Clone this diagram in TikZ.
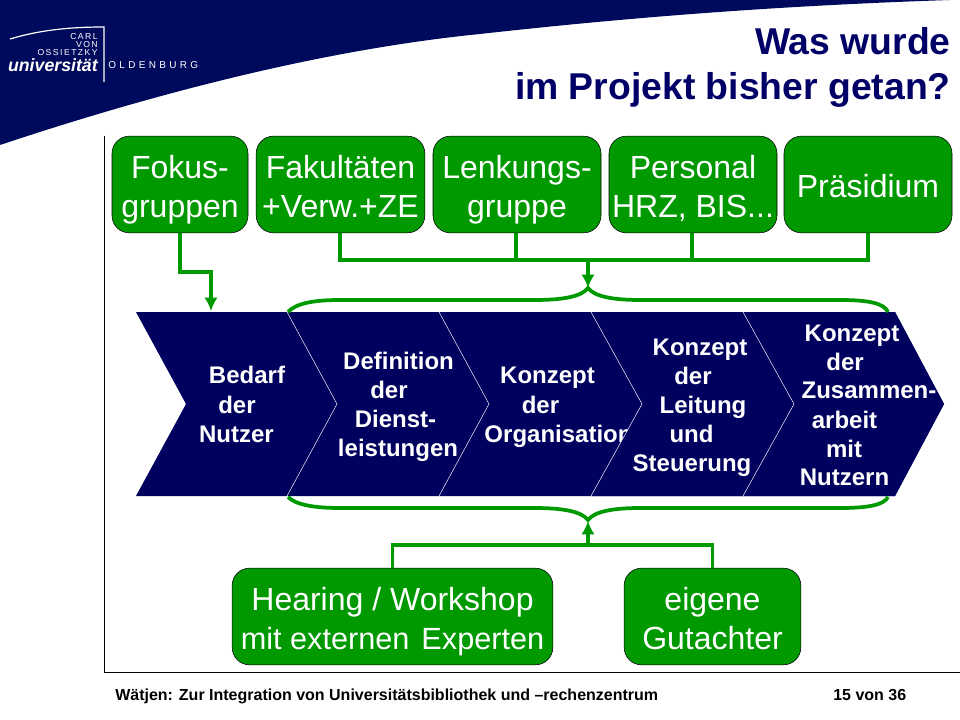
\documentclass[tikz,border=0pt]{standalone}
\usepackage{fontspec}
\setmainfont{Liberation Sans}
\usetikzlibrary{arrows.meta}
\definecolor{navyblue}{HTML}{000A5C}
\definecolor{stepblue}{HTML}{00005F}
\definecolor{titleblue}{HTML}{000066}
\definecolor{boxgreen}{HTML}{009900}
\newcommand{\bl}{\vphantom{g}}
\newcommand{\tl}{\leavevmode\vrule height 25pt depth 0pt width 0pt\vphantom{g}}
\tikzset{
	greenbox/.style={draw=black, fill=boxgreen, rounded corners=13pt, text=white, align=center, font=\fontsize{24}{29}\selectfont, inner sep=0pt},
	greenline/.style={draw=boxgreen, line width=2.8pt},
	greenarrow/.style={greenline, -{Latex[length=10pt,width=10pt]}},
	steptext/.style={text=white, font=\bfseries\fontsize{18}{20}\selectfont, inner sep=0pt, anchor=base},
	logotext/.style={text=white, inner sep=0pt, font=\fontsize{6.5}{8}\selectfont},
	titletext/.style={text=titleblue, font=\bfseries\fontsize{28}{30}\selectfont, inner sep=0pt, anchor=base east},
	foottext/.style={font=\bfseries\fontsize{12}{14}\selectfont, inner sep=0pt, anchor=base west}
}
\begin{document}
\begin{tikzpicture}[x=0.75pt, y=-0.75pt]
	\useasboundingbox (0,0) rectangle (960,720);
	
	%header band
	\fill [navyblue] (0,0) -- (950,0) .. controls (800,5) and (650,15) .. (480,34) .. controls (320,50) and (150,95) .. (0,145) -- cycle;
	
	%logo
	\draw [white, line width=0.9pt] (10,39) .. controls (40,30) and (70,27) .. (104,27) -- (104,82);
	\node [logotext, anchor=east] (carl) at (98,37) {C\,A\,R\,L};
	\node [logotext, anchor=east] (von) at (98,45) {V\,O\,N};
	\node [logotext, anchor=east] (ossietzky) at (98,53) {O\,S\,S\,I\,E\,T\,Z\,K\,Y};
	\node [logotext, anchor=east, font=\bfseries\itshape\fontsize{13.3}{14}\selectfont] (uni) at (98,65) {universität};
	\node [logotext, anchor=west, font=\fontsize{7.5}{8}\selectfont] (oldenburg) at (108,65) {O\,\,L\,\,D\,\,E\,\,N\,\,B\,\,U\,\,R\,\,G};
	
	%title
	\node [titletext] (title1) at (951,55) {Was wurde};
	\node [titletext] (title2) at (951,100) {im Projekt bisher getan?};
	
	%frame
	\coordinate (frame top) at (104,136);
	\coordinate (frame corner) at (104,672);
	\coordinate (frame right) at (960,672);
	\draw [black, line width=0.7pt] (frame top) -- (frame corner) -- (frame right);
	
	%upper boxes
	\node [greenbox, minimum width=102pt, minimum height=72.5pt] (fokus) at (180,184.5) {\tl Fokus-\\\bl gruppen};
	\node [greenbox, minimum width=126.5pt, minimum height=72.5pt] (fakultaeten) at (340.5,184.5) {\tl Fakultäten\\\bl +Verw.+ZE};
	\node [greenbox, minimum width=126pt, minimum height=72.5pt] (lenkung) at (517,184.5) {\tl Lenkungs-\\\bl gruppe};
	\node [greenbox, minimum width=126pt, minimum height=72.5pt] (personal) at (693,184.5) {\tl Personal\\\bl HRZ, BIS...};
	\node [greenbox, minimum width=126pt, minimum height=72.5pt] (praesidium) at (868,184.5) {\tl Präsidium};
	
	%lower boxes
	\node [greenbox, minimum width=240.5pt, minimum height=72.5pt] (hearing) at (392.5,616.5) {\tl Hearing / Workshop\\\bl \fontsize{23}{29}\selectfont mit externen\hspace{9pt}Experten};
	\node [greenbox, minimum width=132.5pt, minimum height=72.5pt] (gutachter) at (712.5,616.5) {\tl eigene\\\bl Gutachter};
	
	%process chevrons, first three
	\fill [stepblue] (136,312) -- (895,312) -- (944,404) -- (895,496) -- (136,496) -- (186,404) -- cycle;
	\foreach \xTop/\xTip in {287/337, 439/489}
		\draw [white, line width=0.35pt] (\xTop,312) -- (\xTip,404) -- (\xTop,496);
	\foreach \x/\y/\txt [count=\i] in {
		247/383/Bedarf, 237/413/der, 236.5/442/Nutzer,
		398.5/369/Definition, 389/398/der, 395.5/427/Dienst-, 398/456/leistungen,
		547.5/383/Konzept, 540.5/413/der, 558.5/442/Organisation}
		\node [steptext] (step\i) at (\x,\y) {\txt};
	
	%remaining chevrons cover the end of the label before them
	\fill [stepblue] (591,312) -- (895,312) -- (944,404) -- (895,496) -- (591,496) -- (642,404) -- cycle;
	\foreach \xTop/\xTip in {591/642, 743/794}
		\draw [white, line width=0.35pt] (\xTop,312) -- (\xTip,404) -- (\xTop,496);
	\foreach \x/\y/\txt [count=\i] in {
		700/355/Konzept, 693/384/der, 703/413/Leitung, 691.5/442/und, 692/471/Steuerung,
		852/341/Konzept, 845/370/der, 869/398/Zusammen-, 844.5/428/arbeit, 844/457/mit, 844.5/485/Nutzern}
		\node [steptext] (lastep\i) at (\x,\y) {\txt};
	
	%connectors above
	\coordinate (fokus bend) at (180,272);
	\coordinate (fokus end) at (211,311);
	\draw [greenarrow] (fokus.south) -- (fokus bend) -| (fokus end);
	\coordinate (upper left) at (340,260);
	\coordinate (upper mid) at (516,260);
	\coordinate (upper midb) at (692,260);
	\coordinate (upper right) at (868,260);
	\coordinate (upper join) at (588,260);
	\coordinate (upper tip) at (588,288);
	\draw [greenline] (fakultaeten.south -| upper left) -- (upper left) -- (upper right) -- (praesidium.south -| upper right);
	\draw [greenline] (lenkung.south -| upper mid) -- (upper mid);
	\draw [greenline] (personal.south -| upper midb) -- (upper midb);
	\draw [greenarrow] (upper join) -- (upper tip);
	
	%upper brace
	\draw [greenline] (288,312) .. controls (296,303) and (315,300) .. (340,300) -- (535,300) .. controls (565,300) and (582,296) .. (588,288)
		.. controls (594,296) and (611,300) .. (640,300) -- (840,300) .. controls (868,300) and (884,303) .. (888,312);
	
	%lower brace
	\draw [greenline] (288,497) .. controls (296,505) and (315,508) .. (340,508) -- (535,508) .. controls (565,508) and (582,512) .. (588,520)
		.. controls (594,512) and (611,508) .. (640,508) -- (840,508) .. controls (868,508) and (884,505) .. (888,497);
	
	%connectors below
	\coordinate (lower join) at (588,545);
	\coordinate (lower tip) at (588,521);
	\draw [greenline] (hearing.north) |- (lower join) -| (gutachter.north);
	\draw [greenarrow] (lower join) -- (lower tip);
	
	%footer
	\node [foottext] (footer) at (115,700) {Wätjen: Zur Integration von Universitätsbibliothek und –rechenzentrum};
	\node [foottext] (page) at (833,700) {15 von 36};
\end{tikzpicture}
\end{document}
